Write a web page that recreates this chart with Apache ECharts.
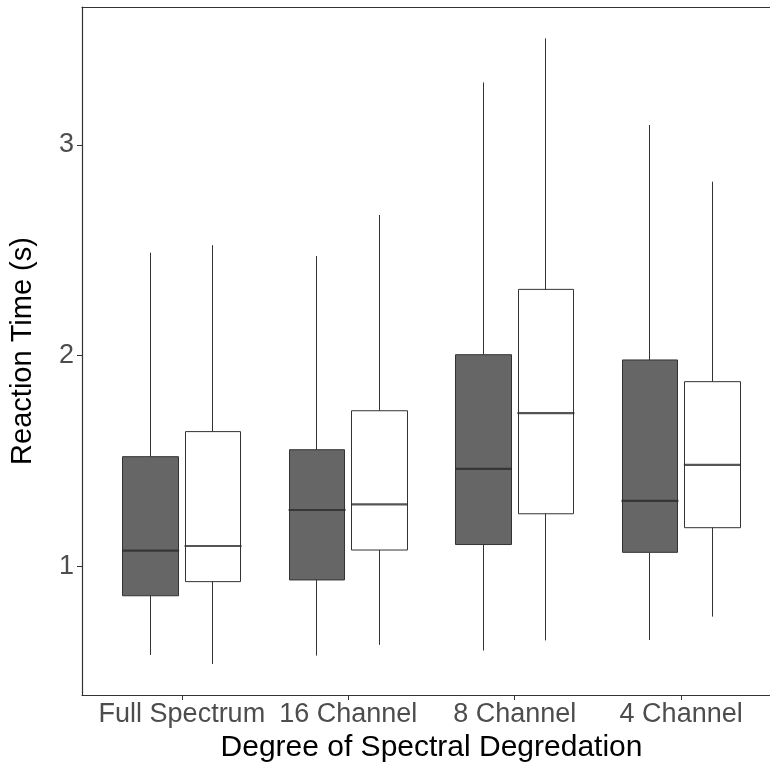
<!DOCTYPE html>
<html>
<head>
<meta charset="utf-8">
<script src="https://cdn.jsdelivr.net/npm/echarts@6/dist/echarts.min.js"></script>
<style>
  html, body { margin: 0; padding: 0; background: #fff; }
  #chart { width: 770px; height: 779px; }
</style>
</head>
<body>
<div id="chart"></div>
<script>
// categories on the x axis
const categories = ['Full Spectrum', '16 Channel', '8 Channel', '4 Channel'];
// five-number summaries [min, Q1, median, Q3, max]
const darkBoxes = [
  [0.580, 0.861, 1.075, 1.521, 2.489],
  [0.577, 0.936, 1.268, 1.554, 2.473],
  [0.601, 1.104, 1.463, 2.005, 3.297],
  [0.651, 1.067, 1.311, 1.980, 3.095]
];
const whiteBoxes = [
  [0.537, 0.928, 1.097, 1.640, 2.525],
  [0.628, 1.078, 1.295, 1.739, 2.668],
  [0.649, 1.250, 1.728, 2.315, 3.506],
  [0.762, 1.184, 1.482, 1.877, 2.826]
];
const yTicks = [1, 2, 3];
const xTicks = [1, 2, 3, 4];

const DODGE = 0.1875; // ggplot position_dodge(0.75) with 2 groups
const BOX_W = 56;
const FONT = 'Liberation Sans';
const LINE = '#333333';

// candlestick item: [x, open, close, lowest, highest] -> box Q1..Q3, whiskers min..max (no caps)
function toBoxData(boxes, offset) {
  return boxes.map((b, i) => [i + 1 + offset, b[1], b[3], b[0], b[4]]);
}
function toMedians(boxes, offset) {
  return boxes.map((b, i) => [i + 1 + offset, b[2]]);
}

function boxSeries(boxes, offset, fill) {
  return {
    type: 'candlestick',
    barWidth: BOX_W,
    encode: { x: 0, y: [1, 2, 3, 4] },
    itemStyle: {
      color: fill, color0: fill,
      borderColor: LINE, borderColor0: LINE, borderColorDoji: LINE,
      borderWidth: 1
    },
    emphasis: { disabled: true },
    silent: true,
    data: toBoxData(boxes, offset)
  };
}
function medianSeries(boxes, offset) {
  // median bar drawn twice as thick, like ggplot's fatten = 2
  return {
    type: 'scatter',
    symbol: 'rect',
    symbolSize: [BOX_W + 1, 2.2],
    itemStyle: { color: '#2a2a2a' },
    z: 5,
    silent: true,
    data: toMedians(boxes, offset)
  };
}

const chart = echarts.init(document.getElementById('chart'), null, { renderer: 'canvas' });

const axisLineStyle = { show: true, onZero: false, lineStyle: { color: LINE, width: 1.2 } };

const option = {
  animation: false,
  backgroundColor: '#ffffff',
  grid: {
    // the panel runs past the right edge of the picture, as in the original crop
    left: 82, top: 7, width: 699, height: 688,
    containLabel: false, outerBoundsMode: 'none'
  },
  xAxis: [
    {
      type: 'value',
      min: 0.4,
      max: 4.6,
      name: 'Degree of Spectral Degredation',
      nameLocation: 'middle',
      nameGap: 33,
      nameTextStyle: { color: '#000', fontSize: 30, fontFamily: FONT },
      splitLine: { show: false },
      axisLine: axisLineStyle,
      axisTick: { show: true, length: 5, customValues: xTicks, lineStyle: { color: LINE } },
      axisLabel: {
        customValues: xTicks,
        margin: 6,
        color: '#4d4d4d',
        fontSize: 27,
        fontFamily: FONT,
        formatter: v => categories[Math.round(v) - 1] || ''
      }
    },
    {
      // top edge of the panel
      type: 'value',
      position: 'top',
      min: 0.4,
      max: 4.6,
      splitLine: { show: false },
      axisLine: axisLineStyle,
      axisTick: { show: false },
      axisLabel: { show: false }
    }
  ],
  yAxis: {
    type: 'value',
    min: 0.39,
    max: 3.655,
    name: 'Reaction Time (s)',
    nameLocation: 'middle',
    nameGap: 45,
    nameRotate: 90,
    nameTextStyle: { color: '#000', fontSize: 29, fontFamily: FONT },
    splitLine: { show: false },
    axisLine: axisLineStyle,
    axisTick: { show: true, length: 5, customValues: yTicks, lineStyle: { color: LINE } },
    axisLabel: {
      customValues: yTicks,
      margin: 8,
      color: '#4d4d4d',
      fontSize: 27,
      fontFamily: FONT
    }
  },
  series: [
    boxSeries(darkBoxes, -DODGE, '#666666'),
    boxSeries(whiteBoxes, DODGE, '#ffffff'),
    medianSeries(darkBoxes, -DODGE),
    medianSeries(whiteBoxes, DODGE)
  ]
};

chart.setOption(option);
</script>
</body>
</html>
